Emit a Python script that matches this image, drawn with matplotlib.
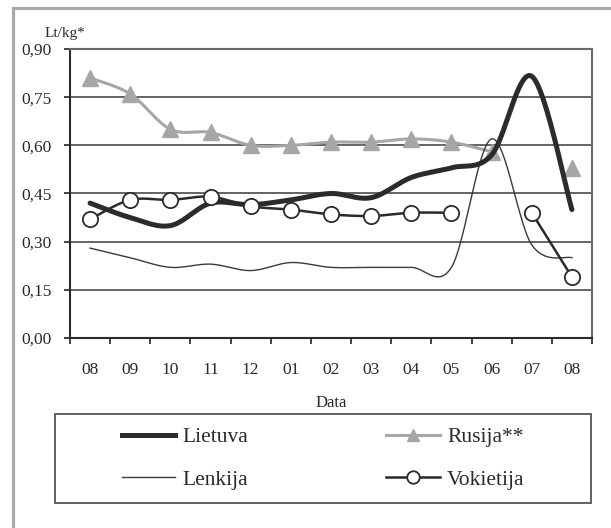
import numpy as np
import matplotlib
matplotlib.use("Agg")
import matplotlib.pyplot as plt
from matplotlib.lines import Line2D
from matplotlib.patches import Rectangle

plt.rcParams['font.family'] = ['Liberation Serif', 'DejaVu Serif']

months = ["08", "09", "10", "11", "12", "01", "02", "03", "04", "05", "06", "07", "08"]
lietuva = [0.42, 0.375, 0.35, 0.42, 0.415, 0.43, 0.45, 0.437, 0.50, 0.53, 0.57, 0.815, 0.40]
rusija = [0.81, 0.76, 0.65, 0.64, 0.60, 0.60, 0.61, 0.61, 0.62, 0.61, 0.58, np.nan, 0.53]
lenkija = [0.28, 0.25, 0.22, 0.23, 0.21, 0.235, 0.22, 0.22, 0.22, 0.22, 0.62, 0.29, 0.25]
vokietija = [0.37, 0.43, 0.43, 0.44, 0.41, 0.40, 0.385, 0.38, 0.39, 0.39, np.nan, 0.39, 0.19]
yticks = [0.00, 0.15, 0.30, 0.45, 0.60, 0.75, 0.90]

x = np.arange(len(months)) + 0.5


def smooth_segments(xs, ys, n=40):
    """Catmull-Rom style (Excel-like) smoothing for each run of valid values."""
    xs = np.asarray(xs, float)
    ys = np.asarray(ys, float)
    valid = ~np.isnan(ys)
    segs = []
    i = 0
    while i < len(ys):
        if not valid[i]:
            i += 1
            continue
        j = i
        while j + 1 < len(ys) and valid[j + 1]:
            j += 1
        px = xs[i:j + 1]
        py = ys[i:j + 1]
        if len(px) == 1:
            segs.append((px, py))
        else:
            P = np.column_stack([px, py])
            Pe = np.vstack([P[0], P, P[-1]])
            outx, outy = [], []
            t = np.linspace(0, 1, n)
            for k in range(len(P) - 1):
                p0 = Pe[k + 1]
                p3 = Pe[k + 2]
                c1 = p0 + (Pe[k + 2] - Pe[k]) / 6.0
                c2 = p3 - (Pe[k + 3] - Pe[k + 1]) / 6.0
                b = ((1 - t) ** 3)[:, None] * p0 + (3 * (1 - t) ** 2 * t)[:, None] * c1 \
                    + (3 * (1 - t) * t ** 2)[:, None] * c2 + (t ** 3)[:, None] * p3
                outx.extend(b[:, 0])
                outy.extend(b[:, 1])
            segs.append((np.array(outx), np.array(outy)))
        i = j + 1
    return segs


W, H = 611, 528
fig = plt.figure(figsize=(W / 100, H / 100), dpi=100)
fig.patch.set_facecolor('white')

# outer gray frame (left and top)
fig.add_artist(Line2D([13 / W, 13 / W], [0, 1 - 8 / H], color='#a9a9a9', lw=2.3))
fig.add_artist(Line2D([13 / W, 1], [1 - 8 / H, 1 - 8 / H], color='#a9a9a9', lw=2.3))

ax = fig.add_axes([70 / W, 1 - 338 / H, (592 - 70) / W, (338 - 49) / H])
ax.set_xlim(0, len(months))
ax.set_ylim(0, 0.9)

ax.set_yticks(yticks)
ax.set_yticklabels([f"{v:.2f}".replace('.', ',') for v in yticks])
ax.yaxis.grid(True, color='#4a4a4a', lw=1.2)
ax.set_axisbelow(True)

ax.set_xticks(np.arange(len(months) + 1))
ax.set_xticklabels([])
ax.set_xticks(x, minor=True)
ax.set_xticklabels(months, minor=True)
ax.tick_params(axis='x', which='major', direction='out', length=4, width=1.3, color='#333333')
ax.tick_params(axis='x', which='minor', length=0, pad=17, labelsize=12.5, labelcolor='#2a2a2a')
ax.tick_params(axis='y', direction='out', length=4, width=1.3, color='#333333', pad=9,
               labelsize=12.5, labelcolor='#2a2a2a')

for s in ['left', 'bottom']:
    ax.spines[s].set_color('#2a2a2a')
    ax.spines[s].set_linewidth(1.5)
for s in ['right', 'top']:
    ax.spines[s].set_color('#6a6a6a')
    ax.spines[s].set_linewidth(1.5)

# Rusija
for sx, sy in smooth_segments(x, rusija):
    ax.plot(sx, sy, color='#a6a6a6', lw=2.2, zorder=2, solid_capstyle='round')
ax.plot(x, rusija, ls='none', marker='^', ms=12, color='#a6a6a6', zorder=2.1)

# Lenkija
for sx, sy in smooth_segments(x, lenkija):
    ax.plot(sx, sy, color='#3a3a3a', lw=1.0, zorder=3)

# Lietuva
for sx, sy in smooth_segments(x, lietuva):
    ax.plot(sx, sy, color='#2b2b2b', lw=3.6, zorder=4, solid_capstyle='round')

# Vokietija
for sx, sy in smooth_segments(x, vokietija):
    ax.plot(sx, sy, color='#2b2b2b', lw=1.8, zorder=5)
ax.plot(x, vokietija, ls='none', marker='o', ms=11, mfc='white', mec='#2b2b2b', mew=1.3, zorder=5.1)

fig.text(45 / W, 1 - 33 / H, "Lt/kg*", fontsize=11, va='center', ha='left', color='#2a2a2a')
fig.text(331 / W, 1 - 403 / H, "Data", fontsize=12, va='center', ha='center', color='#2a2a2a')

# legend frame
fig.add_artist(Rectangle((55 / W, 1 - 503 / H), 536 / W, 89 / H, transform=fig.transFigure,
                         fill=False, edgecolor='#555555', lw=1.3))

handles = [
    Line2D([], [], color='#2b2b2b', lw=3.6),
    Line2D([], [], color='#3a3a3a', lw=1.0),
    Line2D([], [], color='#a6a6a6', lw=2.2, marker='^', ms=9),
    Line2D([], [], color='#2b2b2b', lw=1.8, marker='o', ms=9, mfc='white', mec='#2b2b2b', mew=1.3),
]
labels = ["Lietuva", "Lenkija", "Rusija**", "Vokietija"]
fig.legend(handles, labels, ncol=2, frameon=False, loc='center',
           bbox_to_anchor=(323 / W, 1 - 458.5 / H), fontsize=15.5,
           handlelength=2.5, handletextpad=0.33, columnspacing=6.4, labelspacing=1.03,
           borderpad=0, labelcolor='#2a2a2a')

fig.savefig("out.png", dpi=100, facecolor='white')
